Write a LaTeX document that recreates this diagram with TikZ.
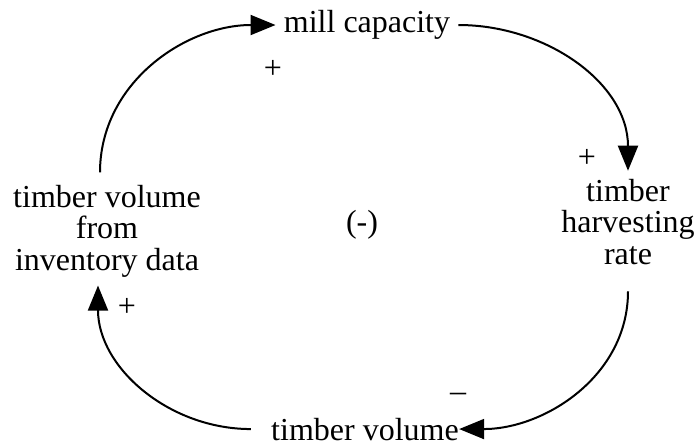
\documentclass[tikz,border=0pt]{standalone}
\usepackage{fontspec}
\setmainfont{Liberation Serif}
\usetikzlibrary{arrows.meta}

\begin{document}
\begin{tikzpicture}[x=0.5pt, y=0.5pt, font=\fontsize{16}{15.8}\selectfont,
    main/.style = {align=center, inner sep=4pt},
    sign/.style = {inner sep=0pt},
    link/.style = {line width=1pt, -{Triangle[length=12.5pt, width=10pt]}}]
    \useasboundingbox (0,0) rectangle (696,-445);

    \node[main] (1) at (367,-25) {mill capacity};
    \node[main] (2) at (628,-222) {timber\\harvesting\\rate};
    \node[main, anchor=base] (3) at (365,-440) {timber volume};
    \node[main] (4) at (107,-231) {timber volume\\from\\inventory data};

    \node[sign] (s1) at (273,-69) {+};
    \node[sign] (s2) at (587,-158) {+};
    \node[sign] (s3) at (458,-397) {\textendash};
    \node[sign] (s4) at (127,-307) {+};
    \node[sign] (loop) at (362,-225) {(-)};

    \draw[link] (1.east) to[out=0, in=90] (2.north);
    \draw[link] ([yshift=-9pt]2.south) to[out=-90, in=0] ([xshift=-4pt]3.east);
    \draw[link] ([xshift=-6pt]3.west) to[out=180, in=-90] ([xshift=-4.5pt]4.south);
    \draw[link] ([xshift=-3.5pt, yshift=2pt]4.north) to[out=90, in=180] (1.west);
\end{tikzpicture}
\end{document}
